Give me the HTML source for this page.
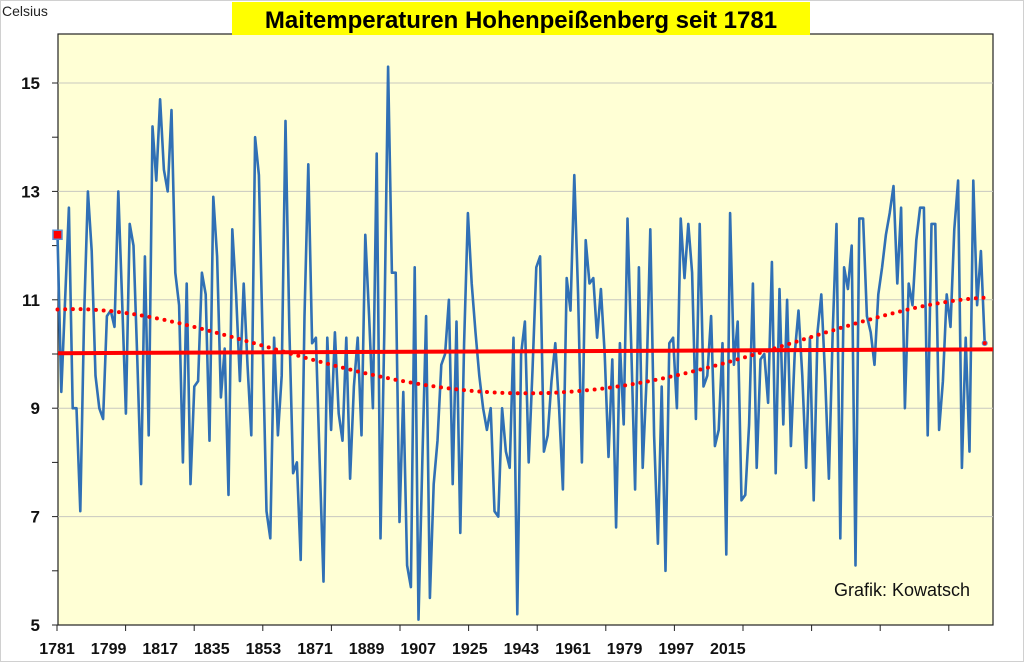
<!DOCTYPE html>
<html><head><meta charset="utf-8"><style>
body{margin:0;background:#fff;}
#wrap{position:relative;width:1024px;height:662px;overflow:hidden;font-family:"Liberation Sans",sans-serif;}
</style></head><body>
<div id="wrap">
<svg id="chart" width="1024" height="662">
<rect x="0.5" y="0.5" width="1023" height="661" fill="#fff" stroke="#d0d0d0"/>
<rect x="58" y="34" width="935" height="591" fill="#FFFFD5" stroke="#222" stroke-width="1.2"/>
<text x="2" y="16" font-size="14" fill="#222">Celsius</text>
<rect x="232" y="2" width="578" height="33" fill="#FFFF00"/>
<text x="521" y="28" font-size="24" font-weight="bold" text-anchor="middle" fill="#000">Maitemperaturen Hohenpeißenberg seit 1781</text>
<g id="grid"></g><g id="axes"></g><g id="series"></g>
<text x="970" y="596" font-size="18" text-anchor="end" fill="#111">Grafik: Kowatsch</text>
</svg>
</div>
<script>
const startYear = 1781;
const temps = [12.2,9.3,11.0,12.7,9.0,9.0,7.1,10.7,13.0,11.9,9.6,9.0,8.8,10.7,10.8,10.5,13.0,11.0,8.9,12.4,12.0,9.9,7.6,11.8,8.5,14.2,13.2,14.7,13.4,13.0,14.5,11.5,10.9,8.0,11.3,7.6,9.4,9.5,11.5,11.1,
8.4,12.9,11.8,9.2,10.1,7.4,12.3,11.1,9.5,11.3,9.8,8.5,14.0,13.3,10.2,7.1,6.6,10.3,8.5,9.6,14.3,10.5,7.8,8.0,6.2,10.7,13.5,10.2,10.3,8.0,
5.8,10.3,8.6,10.4,8.9,8.4,10.3,7.7,9.4,10.3,8.5,12.2,10.7,9.0,13.7,6.6,10.4,15.3,11.5,11.5,6.9,9.3,6.1,5.7,11.6,5.1,8.0,10.7,5.5,7.6,
8.4,9.8,10.0,11.0,7.6,10.6,6.7,10.2,12.6,11.3,10.4,9.6,9.0,8.6,9.0,7.1,7.0,9.0,8.2,7.9,10.3,5.2,10.0,10.6,8.0,9.7,11.6,11.8,8.2,8.5,
9.5,10.2,9.0,7.5,11.4,10.8,13.3,11.1,8.0,12.1,11.3,11.4,10.3,11.2,10.0,8.1,9.9,6.8,10.2,8.7,12.5,10.1,7.5,11.6,7.9,9.5,12.3,8.5,6.5,9.4,
6.0,10.2,10.3,9.0,12.5,11.4,12.4,11.5,8.8,12.4,9.4,9.6,10.7,8.3,8.6,10.2,6.3,12.6,9.8,10.6,7.3,7.4,8.7,11.3,7.9,9.9,10.0,9.1,11.7,7.8,
11.2,8.7,11.0,8.3,10.0,10.8,9.6,7.9,10.3,7.3,10.4,11.1,9.6,7.7,10.4,12.4,6.6,11.6,11.2,12.0,6.1,12.5,12.5,10.7,10.4,9.8,11.1,11.6,12.2,12.6,
13.1,11.3,12.7,9.0,11.3,10.9,12.1,12.7,12.7,8.5,12.4,12.4,8.6,9.5,11.1,10.5,12.3,13.2,7.9,10.3,8.2,13.2,10.9,11.9,10.2];
const yTicks = [5,7,9,11,13,15];
const xLabels = ["1781","1799","1817","1835","1853","1871","1889","1907","1925","1943","1961","1979","1997","2015"];

const NS="http://www.w3.org/2000/svg";
const L=58,R=993,T=34,B=625;
const x0=57.5, dx=3.8;
function xs(i){return x0+dx*i;}
function ys(v){return B-(v-5)*(B-83)/10;}
function mk(tag,attrs,parent){const e=document.createElementNS(NS,tag);for(const k in attrs)e.setAttribute(k,attrs[k]);parent.appendChild(e);return e;}
const grid=document.getElementById('grid'),axes=document.getElementById('axes'),series=document.getElementById('series');

yTicks.forEach(v=>{
  if(v>5){const g=mk('line',{x1:L,x2:R,y1:ys(v),y2:ys(v),stroke:'#c8c8c0','stroke-width':1},grid);
  
  }
  const t=mk('text',{x:40,y:ys(v)+6,'font-size':17,'font-weight':'bold','text-anchor':'end',fill:'#111'},axes);
  t.textContent=v;
  
  
});
for(let v=5;v<=15;v++){const tk=mk('line',{x1:52,x2:58,y1:ys(v),y2:ys(v),stroke:'#222','stroke-width':1},axes);
  
  }
for(let k=0;k<=13;k++){const xx=57+68.6*k;if(xx>R)break;
  const tk=mk('line',{x1:xx,x2:xx,y1:B,y2:B+6,stroke:'#222','stroke-width':1},axes);
  
  }
xLabels.forEach((s,k)=>{
  const t=mk('text',{x:57+51.6*k,y:654,'font-size':16,'font-weight':'bold','text-anchor':'middle',fill:'#111'},axes);
  t.textContent=s;
  
  
});

function polyfit(deg){
  const n=temps.length,m=deg+1,A=[],b=[];
  for(let r=0;r<m;r++){A.push(new Array(m).fill(0));b.push(0);}
  temps.forEach((v,i)=>{const u=(i/(n-1))*2-1;const p=[];for(let k=0;k<m;k++)p.push(Math.pow(u,k));
    for(let r=0;r<m;r++){b[r]+=p[r]*v;for(let c=0;c<m;c++)A[r][c]+=p[r]*p[c];}});
  for(let c=0;c<m;c++){let piv=c;for(let r=c+1;r<m;r++)if(Math.abs(A[r][c])>Math.abs(A[piv][c]))piv=r;
    [A[c],A[piv]]=[A[piv],A[c]];[b[c],b[piv]]=[b[piv],b[c]];
    for(let r=0;r<m;r++)if(r!==c){const f=A[r][c]/A[c][c];for(let k=c;k<m;k++)A[r][k]-=f*A[c][k];b[r]-=f*b[c];}}
  const co=b.map((v,k)=>v/A[k][k]);
  return i=>{const u=(i/(n-1))*2-1;let s=0;co.forEach((c,k)=>s+=c*Math.pow(u,k));return s;};
}
const n=temps.length;
const poly=polyfit(4), lin=polyfit(1);

let d='';temps.forEach((v,i)=>{d+=(i?'L':'M')+xs(i).toFixed(1)+' '+ys(v).toFixed(1);});
const ln=mk('path',{d:d,fill:'none',stroke:'#3070B5','stroke-width':2.6,'stroke-linejoin':'round'},series);



const lt=mk('line',{x1:L,x2:R,y1:ys(lin(0)),y2:ys(lin(n-1)),stroke:'#ff0000','stroke-width':4},series);



let pd='';for(let i=0;i<n;i+=1)pd+=(i?'L':'M')+xs(i).toFixed(1)+' '+ys(poly(i)).toFixed(1);
const tr=mk('path',{d:pd,fill:'none',stroke:'#ff0000','stroke-width':4,'stroke-dasharray':'0 7.7','stroke-linecap':'round'},series);



const m0=mk('rect',{x:xs(0)-4.5,y:ys(temps[0])-4.5,width:9,height:9,fill:'#ff0000',stroke:'#5b8fd0','stroke-width':1.5},series);


const m1=mk('circle',{cx:xs(n-1),cy:ys(temps[n-1]),r:2.5,fill:'#ff0000',stroke:'#5b8fd0','stroke-width':1},series);


</script>
</body></html>
